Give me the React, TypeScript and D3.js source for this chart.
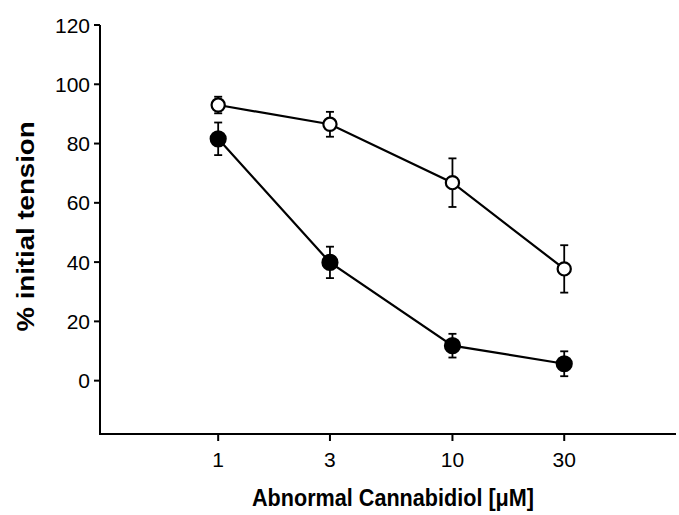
import React from "react";
import * as d3 from "d3";

const concentrations = [1, 3, 10, 30];
const openMean = [93, 86.5, 66.8, 37.7];
const openErr = [2.8, 4.2, 8.2, 8];
const filledMean = [81.6, 39.9, 11.8, 5.7];
const filledErr = [5.5, 5.3, 4, 4.2];
const yTicks = [0, 20, 40, 60, 80, 100, 120];
const xTicks = [1, 3, 10, 30];

const W = 679;
const H = 515;

export default function App() {
  const x = d3.scaleLog().domain([0.313, 90]).range([100, 676]);
  const y = d3.scaleLinear().domain([-18, 120]).range([434, 25]);
  const line = d3
    .line<number>()
    .x((_, i) => x(concentrations[i]))
    .y((d) => y(d));
  const font = "'Liberation Sans', Arial, sans-serif";

  const series = [
    { mean: filledMean, err: filledErr, fill: "#000" },
    { mean: openMean, err: openErr, fill: "#fff" },
  ];

  return (
    <svg
      width={W}
      height={H}
      style={{ position: "absolute", left: 0, top: 0, background: "#fff" }}
      fontFamily={font}
    >
      {/* axes */}
      <line x1={100} x2={100} y1={y(120)} y2={434} stroke="#000" strokeWidth={2} />
      <line x1={99} x2={676} y1={434} y2={434} stroke="#000" strokeWidth={2} />
      {yTicks.map((t) => (
        <g key={t}>
          <line x1={94} x2={100} y1={y(t)} y2={y(t)} stroke="#000" strokeWidth={2} />
          <text x={90} y={y(t)} dy="0.36em" textAnchor="end" fontSize={21}>
            {t}
          </text>
        </g>
      ))}
      {xTicks.map((t) => (
        <g key={t}>
          <line x1={x(t)} x2={x(t)} y1={434} y2={441} stroke="#000" strokeWidth={2} />
          <text x={x(t)} y={467} textAnchor="middle" fontSize={21}>
            {t}
          </text>
        </g>
      ))}
      <text
        transform={`translate(34,${226.5}) rotate(-90) scale(1.15,1)`}
        textAnchor="middle"
        fontSize={24}
        fontWeight="bold"
      >
        % initial tension
      </text>
      <text
        transform={`translate(393,506) scale(0.92,1)`}
        textAnchor="middle"
        fontSize={23.5}
        fontWeight="bold"
      >
        Abnormal Cannabidiol [μM]
      </text>

      {series.map((s, si) => (
        <g key={si}>
          <path d={line(s.mean) || ""} fill="none" stroke="#000" strokeWidth={2.2} />
          {s.mean.map((m, i) => {
            const cx = x(concentrations[i]);
            const top = y(m + s.err[i]);
            const bot = y(m - s.err[i]);
            return (
              <g key={i}>
                <line x1={cx} x2={cx} y1={top} y2={bot} stroke="#000" strokeWidth={1.8} />
                <line x1={cx - 4} x2={cx + 4} y1={top} y2={top} stroke="#000" strokeWidth={1.8} />
                <line x1={cx - 4} x2={cx + 4} y1={bot} y2={bot} stroke="#000" strokeWidth={1.8} />
                <circle
                  cx={cx}
                  cy={y(m)}
                  r={s.fill === "#000" ? 7.5 : 6.6}
                  fill={s.fill}
                  stroke="#000"
                  strokeWidth={2.2}
                />
              </g>
            );
          })}
        </g>
      ))}
    </svg>
  );
}
